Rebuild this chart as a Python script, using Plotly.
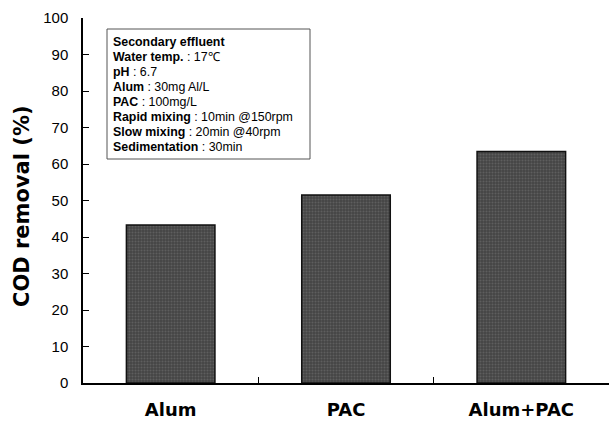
import plotly.graph_objects as go

categories = ["Alum", "PAC", "Alum+PAC"]
cod_removal = [43.3, 51.5, 63.4]
y_ticks = [0, 10, 20, 30, 40, 50, 60, 70, 80, 90, 100]
info_labels = ["Secondary effluent", "Water temp.", "pH", "Alum", "PAC",
               "Rapid mixing", "Slow mixing", "Sedimentation"]
info_values = ["", "17℃", "6.7", "30mg Al/L", "100mg/L",
               "10min @150rpm", "20min @40rpm", "30min"]

W, H = 609, 424
L, R, T, B = 83, 0, 18, 41
pw, ph = W - L - R, H - T - B


def px_x(x):
    return (x - L) / pw


def px_y(y):
    return (H - B - y) / ph


fig = go.Figure(go.Bar(
    x=categories, y=cod_removal,
    marker=dict(color="#454545",
                line=dict(color="#111111", width=1.5),
                pattern=dict(shape=".", fgcolor="#777777", size=3, solidity=0.35)),
    width=0.505,
))

fig.add_shape(type="rect", xref="paper", yref="paper",
              x0=px_x(107), x1=px_x(310), y0=px_y(159), y1=px_y(29),
              line=dict(color="#555555", width=1), fillcolor="white", layer="below")

for i, (lab, val) in enumerate(zip(info_labels, info_values)):
    txt = f"<b>{lab}</b> : {val}" if val else f"<b>{lab}</b>"
    fig.add_annotation(xref="paper", yref="paper",
                       x=px_x(111), y=px_y(41.7 + 15.1 * i),
                       xanchor="left", yanchor="middle", align="left",
                       text=txt, showarrow=False,
                       font=dict(family="Liberation Sans, Arial", size=12.4, color="black"))

fig.add_annotation(xref="paper", yref="paper",
                   x=px_x(22), y=px_y(206),
                   xanchor="center", yanchor="middle", textangle=-90,
                   text="<b>COD removal (%)</b>", showarrow=False,
                   font=dict(family="DejaVu Sans", size=21, color="black"))

fig.update_layout(
    width=W, height=H,
    margin=dict(l=L, r=R, t=T, b=B, autoexpand=False),
    paper_bgcolor="white", plot_bgcolor="white",
    showlegend=False,
    bargap=0.495,
    xaxis=dict(range=[-0.5, 2.5], showline=True, linecolor="black", linewidth=1.5,
               ticks="inside", ticklen=6, tickcolor="black", tickwidth=1,
               tickson="boundaries", showgrid=False, zeroline=False,
               tickfont=dict(family="DejaVu Sans", size=18, color="black"),
               ticklabelstandoff=10, fixedrange=True,
               tickvals=categories, ticktext=[f"<b>{c}</b>" for c in categories]),
    yaxis=dict(range=[0, 100], showline=True, linecolor="black", linewidth=1.5,
               ticks="inside", ticklen=6, tickcolor="black", tickwidth=1,
               tickvals=y_ticks, showgrid=False, zeroline=False,
               tickfont=dict(family="Liberation Sans, Arial", size=15, color="black"),
               ticklabelstandoff=10, fixedrange=True),
)

fig.write_html("out.html", config={"displayModeBar": False},
               post_script="document.body.style.margin='0';document.body.style.padding='0';")
